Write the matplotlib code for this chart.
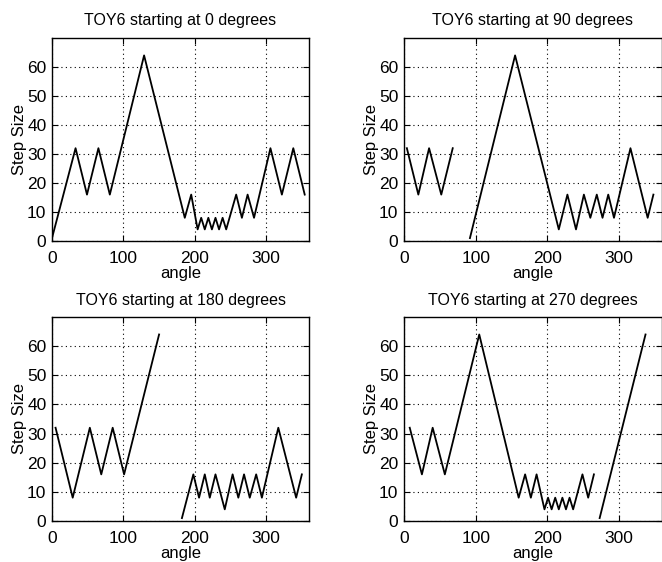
import matplotlib
matplotlib.use("Agg")
import matplotlib.pyplot as plt

plt.rcParams['font.family'] = ['Liberation Sans', 'DejaVu Sans']

# vertices, None = break in the line
ang_0 = [0, 33, 49, 65, 81, 129, 186, 195, 204, 209, 214, 219, 224, 229, 234, 239, 244,
         258, 266, 274, 283, 306, 322, 338, 354]
step_0 = [1, 32, 16, 32, 16, 64, 8, 16, 4, 8, 4, 8, 4, 8, 4, 8, 4,
          16, 8, 16, 8, 32, 16, 32, 16]

ang_90 = [4, 20, 35, 52, 68, None, 92, 155, 216, 228, 240, 251, 260, 269, 277, 285, 293,
          316, 340, 348]
step_90 = [32, 16, 32, 16, 32, None, 1, 64, 4, 16, 4, 16, 8, 16, 8, 16, 8,
           32, 8, 16]

ang_180 = [5, 29, 53, 69, 85, 101, 150, None, 182, 198, 206, 214, 221, 229, 242, 253, 261,
           269, 277, 286, 294, 317, 342, 350]
step_180 = [32, 8, 32, 16, 32, 16, 64, None, 1, 16, 8, 16, 8, 16, 4, 16, 8,
            16, 8, 16, 8, 32, 8, 16]

ang_270 = [8, 25, 40, 57, 105, 160, 169, 177, 185, 196, 201, 206, 211, 216, 221, 226, 231,
           236, 249, 257, 265, None, 273, 337]
step_270 = [32, 16, 32, 16, 64, 8, 16, 8, 16, 4, 8, 4, 8, 4, 8, 4, 8,
            4, 16, 8, 16, None, 1, 64]

starts = [0, 90, 180, 270]
angles = [ang_0, ang_90, ang_180, ang_270]
steps = [step_0, step_90, step_180, step_270]

W, H = 662, 562
fig = plt.figure(figsize=(W / 100, H / 100), dpi=100)

# axes boxes in pixels: left, top, right, bottom
boxes = [(52, 38, 309, 241), (404, 38, 662, 241),
         (52, 317, 309, 521), (404, 317, 662, 521)]

for start, xs, ys, (l, t, r, b) in zip(starts, angles, steps, boxes):
    ax = fig.add_axes([l / W, 1 - b / H, (r - l) / W, (b - t) / H])
    xx = [float('nan') if v is None else v for v in xs]
    yy = [float('nan') if v is None else v for v in ys]
    ax.plot(xx, yy, color='black', lw=1.3)
    ax.set_xlim(0, 360)
    ax.set_ylim(0, 70)
    ax.set_xticks([0, 100, 200, 300])
    ax.set_yticks([0, 10, 20, 30, 40, 50, 60])
    ax.grid(True, color='black', linestyle=(0, (1, 3)), lw=0.8)
    ax.tick_params(direction='in', top=True, right=True, labelsize=12.5, length=4)
    ax.tick_params(axis='x', pad=7)
    ax.tick_params(axis='y', pad=4)
    for s in ax.spines.values():
        s.set_linewidth(1.0)
    ax.set_title(f"TOY6 starting at {start} degrees", fontsize=11.5, pad=9)
    ax.set_xlabel("angle", fontsize=12, labelpad=0)
    ax.set_ylabel("Step Size", fontsize=12, labelpad=0)

fig.savefig("out.png", dpi=100)
